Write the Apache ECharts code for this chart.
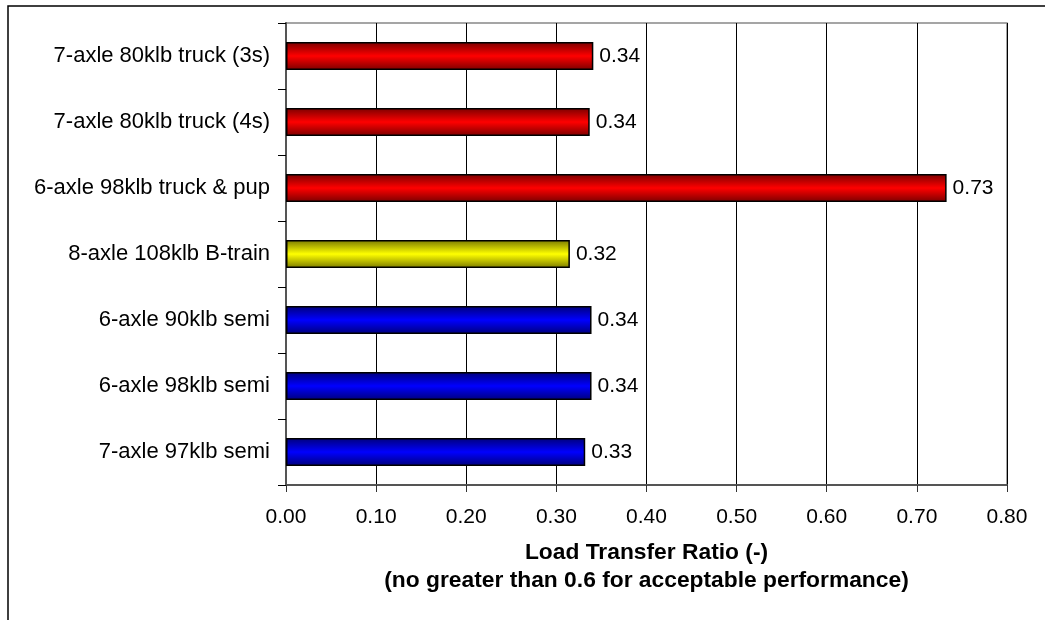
<!DOCTYPE html>
<html><head><meta charset="utf-8">
<script src="https://cdn.jsdelivr.net/npm/echarts@6/dist/echarts.min.js"></script>
<style>html,body{margin:0;padding:0;background:#fff}#c{width:1045px;height:620px}</style>
</head><body><div id="c"></div>
<script>
const categories = ["7-axle 80klb truck (3s)","7-axle 80klb truck (4s)","6-axle 98klb truck & pup","8-axle 108klb B-train","6-axle 90klb semi","6-axle 98klb semi","7-axle 97klb semi"];
const values = [0.341, 0.337, 0.733, 0.315, 0.339, 0.339, 0.332];
const colorGroups = ["red","red","red","yellow","blue","blue","blue"];
const xTicks = [0, 0.1, 0.2, 0.3, 0.4, 0.5, 0.6, 0.7, 0.8];
const xTitle = "Load Transfer Ratio (-)\n(no greater than 0.6 for acceptable performance)";

const palette = {
  red: ["#7a0000", "#ff0000"],
  yellow: ["#7a7a00", "#ffff00"],
  blue: ["#00007a", "#0000ff"]
};
function grad(g){
  const [d,b] = palette[g];
  return new echarts.graphic.LinearGradient(0,0,0,1,[
    {offset:0,color:d},{offset:0.5,color:b},{offset:1,color:d}]);
}
const chart = echarts.init(document.getElementById('c'), null, {renderer:'canvas'});
const font = "Liberation Sans, Arial, sans-serif";
chart.setOption({
  animation:false,
  textStyle:{fontFamily:font},
  graphic:[{type:'rect',shape:{x:8,y:6,width:1100,height:700},style:{fill:'none',stroke:'#000',lineWidth:1.5},z:-1},
           {type:'rect',shape:{x:286,y:23,width:721,height:462},style:{fill:'none',stroke:'#888',lineWidth:1.5},z:-1}],
  grid:{left:286,right:38,top:23,bottom:135,containLabel:false},
  xAxis:{type:'value',min:0,max:0.8,interval:0.1,
    axisLine:{show:true,lineStyle:{color:'#555',width:2}},
    axisTick:{show:true,length:7,lineStyle:{color:'#333'}},
    splitLine:{show:true,lineStyle:{color:'#000',width:1}},
    axisLabel:{fontSize:21,color:'#000',margin:22,fontFamily:font,formatter:v=>v.toFixed(2)},
    name:xTitle,nameLocation:'middle',nameGap:54,
    nameTextStyle:{fontSize:22.8,fontWeight:'bold',color:'#000',fontFamily:font,lineHeight:28}
  },
  yAxis:{type:'category',data:categories,inverse:true,
    axisLine:{show:true,lineStyle:{color:'#555',width:2}},
    axisTick:{show:true,length:8,lineStyle:{color:'#000'}},
    axisLabel:{fontSize:22,color:'#000',margin:16,fontFamily:font},
    splitLine:{show:false}
  },
  series:[{type:'bar',barWidth:28,
    data:values.map((v,i)=>({value:v,itemStyle:{color:grad(colorGroups[i]),borderColor:'#000',borderWidth:1.5}})),
    label:{show:true,position:'right',distance:6,fontSize:21,color:'#000',fontFamily:font,formatter:p=>p.value.toFixed(2)}
  }]
});
</script></body></html>
